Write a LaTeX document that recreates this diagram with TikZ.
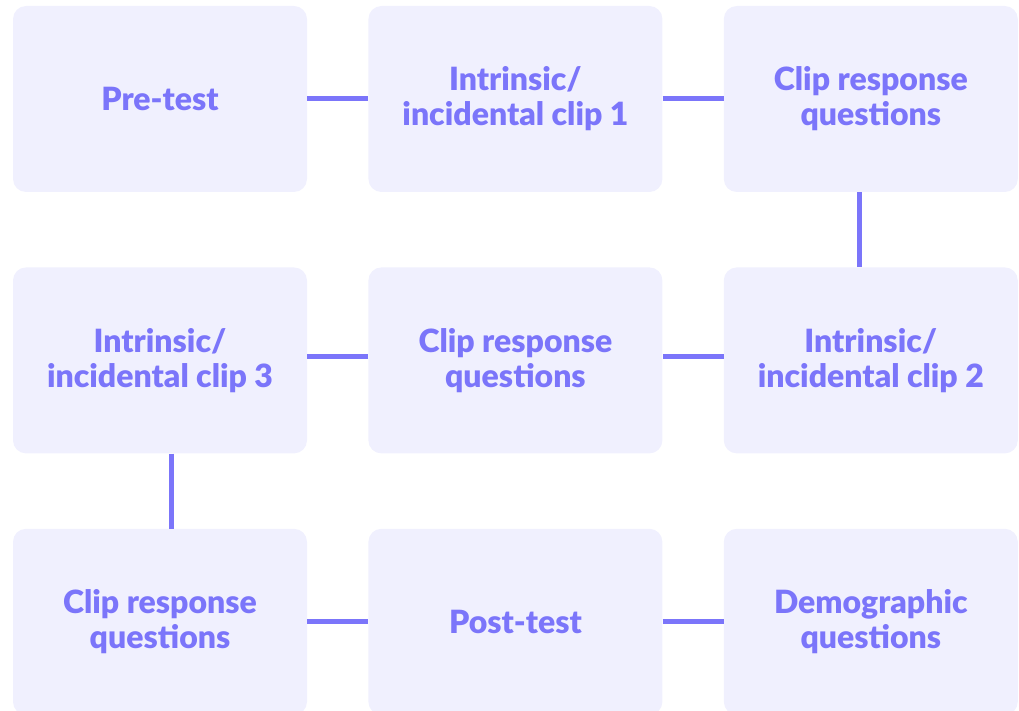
\documentclass[tikz,border=0pt]{standalone}
\usepackage{fontspec}
\setmainfont{Lato}[BoldFont={* Black}]
\usetikzlibrary{positioning}
\definecolor{boxfill}{RGB}{240,240,254}
\definecolor{ink}{RGB}{123,117,250}
\tikzset{
  stage/.style={fill=boxfill, rounded corners=13pt, minimum width=294pt, minimum height=186pt,
    align=center, text=ink, font=\fontsize{32}{35}\selectfont\bfseries, inner sep=0pt},
  link/.style={draw=ink, line width=5pt}
}
\begin{document}
\begin{tikzpicture}[x=1pt, y=-1pt, node distance=75pt and 61pt]
        \useasboundingbox (0,0) rectangle (1019,711);
        \node[stage] (pre) at (160,99) {Pre-test};
        \node[stage, right=of pre] (clipa) {Intrinsic/\\incidental clip 1};
        \node[stage, right=of clipa] (respa) {Clip response\\questions};
        \node[stage, below=of respa] (clipb) {Intrinsic/\\incidental clip 2};
        \node[stage, left=of clipb] (respb) {Clip response\\questions};
        \node[stage, left=of respb] (clipc) {Intrinsic/\\incidental clip 3};
        \node[stage, below=of clipc] (respc) {Clip response\\questions};
        \node[stage, right=of respc] (post) {Post-test};
        \node[stage, right=of post] (demo) {Demographic\\questions};
        \draw[link] (pre) -- (clipa);
        \draw[link] (clipa) -- (respa);
        \draw[link] ([xshift=-11pt]respa.south) -- ([xshift=-11pt]clipb.north);
        \draw[link] ([yshift=4pt]clipb.west) -- ([yshift=4pt]respb.east);
        \draw[link] ([yshift=4pt]respb.west) -- ([yshift=4pt]clipc.east);
        \draw[link] ([xshift=11pt]clipc.south) -- ([xshift=11pt]respc.north);
        \draw[link] (respc) -- (post);
        \draw[link] (post) -- (demo);
    \end{tikzpicture}
\end{document}
